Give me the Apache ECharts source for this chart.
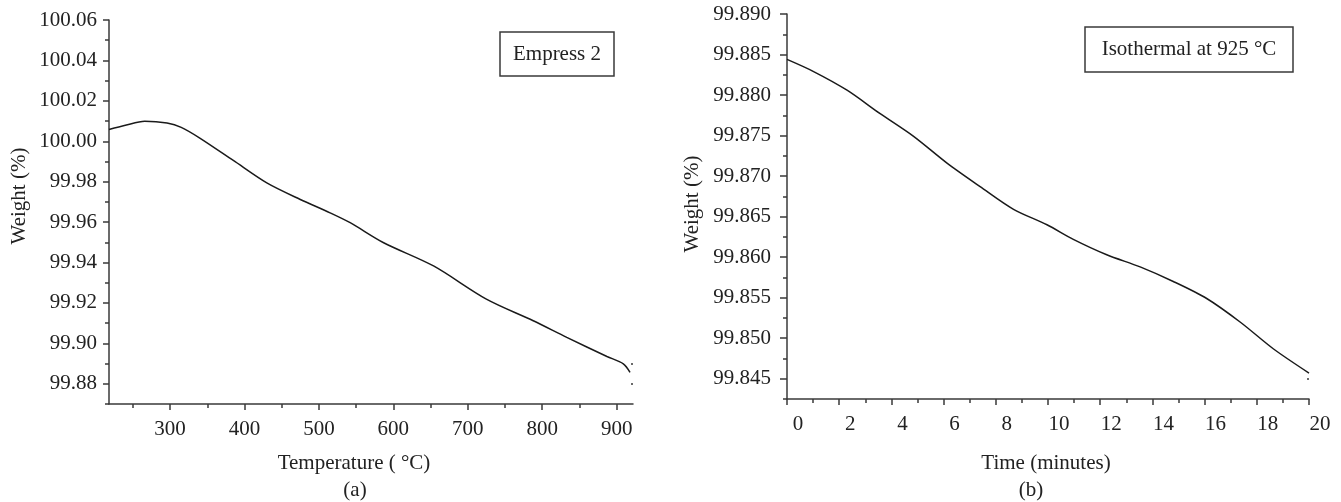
<!DOCTYPE html>
<html>
<head>
<meta charset="utf-8">
<script src="https://cdn.jsdelivr.net/npm/echarts@6/dist/echarts.min.js"></script>
<style>
  html, body { margin: 0; padding: 0; background: #fff; }
  #main { width: 1341px; height: 502px; }
</style>
</head>
<body>
<div id="main"></div>
<script>
// (a) heating run, Empress 2
const tempA = [218, 240, 266, 296, 315, 340, 385, 430, 475, 515, 542, 587, 654, 725, 788, 833, 887, 909, 918];
const weightA = [100.0058, 100.0079, 100.0099, 100.0090, 100.0069, 100.0016, 99.9905, 99.9794, 99.9712, 99.9646,
    99.9597, 99.9498, 99.9383, 99.9219, 99.9112, 99.9030, 99.8935, 99.8899, 99.8857];

// (b) isothermal at 925 °C
const timeB = [0, 1.02, 2.3, 3.57, 4.85, 6.13, 7.4, 8.68, 9.96, 10.97, 12.25, 13.53, 14.8, 16.08, 17.36, 18.63, 20];
const weightB = [99.8844, 99.8829, 99.8806, 99.8777, 99.8749, 99.8716, 99.8687, 99.8659, 99.864, 99.8622,
    99.8603, 99.8588, 99.857, 99.8549, 99.852, 99.8487, 99.8457];

// tick positions
const tempTicks = [300, 400, 500, 600, 700, 800, 900];
const tempMinor = [250, 350, 450, 550, 650, 750, 850];
const weightTicksA = [99.88, 99.90, 99.92, 99.94, 99.96, 99.98, 100.00, 100.02, 100.04, 100.06];
const weightMinorA = [99.87, 99.89, 99.91, 99.93, 99.95, 99.97, 99.99, 100.01, 100.03, 100.05];
const weightTicksB = [99.845, 99.850, 99.855, 99.860, 99.865, 99.870, 99.875, 99.880, 99.885, 99.890];
const weightMinorB = [99.8425, 99.8475, 99.8525, 99.8575, 99.8625, 99.8675, 99.8725, 99.8775, 99.8825, 99.8875];

const FONT = 'Liberation Serif';
const INK = '#222';
const AXIS = '#3a3a3a';

const chart = echarts.init(document.getElementById('main'));

const pairs = (xs, ys) => xs.map((x, i) => [x, ys[i]]);

const lineAxis = { lineStyle: { color: AXIS, width: 1.5 } };
const tickLine = { color: AXIS, width: 1.5 };
const labelStyle = { color: INK, fontFamily: FONT, fontSize: 21 };

const text = (x, y, str, rot) => ({
    type: 'text',
    x: x, y: y,
    rotation: rot || 0,
    style: {
        text: str, fill: INK, font: '21px "Liberation Serif"',
        align: 'center', verticalAlign: 'middle'
    }
});

chart.setOption({
    animation: false,
    backgroundColor: '#fff',
    grid: [
        { left: 109, top: 20, width: 524, height: 384 },
        { left: 787, top: 14, width: 522, height: 385 }
    ],
    xAxis: [
        {
            gridIndex: 0, type: 'value', min: 218, max: 922, position: 'bottom',
            axisLine: lineAxis,
            axisTick: { customValues: tempTicks, length: 6, lineStyle: tickLine },
            axisLabel: Object.assign({ customValues: tempTicks, margin: 15 }, labelStyle),
            splitLine: { show: false }
        },
        {
            // minor ticks for (a)
            gridIndex: 0, type: 'value', min: 218, max: 922, position: 'bottom',
            axisLine: { show: false },
            axisTick: { customValues: tempMinor, length: 4, lineStyle: tickLine },
            axisLabel: { show: false },
            splitLine: { show: false }
        },
        {
            gridIndex: 1, type: 'value', min: 0, max: 20, interval: 2, position: 'bottom',
            axisLine: lineAxis,
            axisTick: { length: 6, lineStyle: tickLine },
            minorTick: { show: true, splitNumber: 2, length: 4, lineStyle: tickLine },
            axisLabel: Object.assign({ margin: 15, padding: [0, 0, 0, 22] }, labelStyle),
            splitLine: { show: false }
        }
    ],
    yAxis: [
        {
            gridIndex: 0, type: 'value', min: 99.87, max: 100.06, position: 'left',
            axisLine: lineAxis,
            axisTick: { customValues: weightTicksA, length: 6, lineStyle: tickLine },
            axisLabel: Object.assign({
                customValues: weightTicksA, margin: 12,
                formatter: v => v.toFixed(2)
            }, labelStyle),
            splitLine: { show: false }
        },
        {
            // minor ticks for (a)
            gridIndex: 0, type: 'value', min: 99.87, max: 100.06, position: 'left',
            axisLine: { show: false },
            axisTick: { customValues: weightMinorA, length: 4, lineStyle: tickLine },
            axisLabel: { show: false },
            splitLine: { show: false }
        },
        {
            gridIndex: 0, type: 'value', min: 99.87, max: 100.06, position: 'right',
            axisLine: { show: false },
            axisTick: { customValues: [99.88, 99.89], inside: true, length: 2, lineStyle: tickLine },
            axisLabel: { show: false },
            splitLine: { show: false }
        },
        {
            gridIndex: 1, type: 'value', min: 99.8425, max: 99.89, position: 'left',
            axisLine: lineAxis,
            axisTick: { customValues: weightTicksB, length: 7, lineStyle: tickLine },
            axisLabel: Object.assign({
                customValues: weightTicksB, margin: 16,
                formatter: v => v.toFixed(3)
            }, labelStyle),
            splitLine: { show: false }
        },
        {
            // minor ticks for (b)
            gridIndex: 1, type: 'value', min: 99.8425, max: 99.89, position: 'left',
            axisLine: { show: false },
            axisTick: { customValues: weightMinorB, length: 4, lineStyle: tickLine },
            axisLabel: { show: false },
            splitLine: { show: false }
        },
        {
            gridIndex: 1, type: 'value', min: 99.8425, max: 99.89, position: 'right',
            axisLine: { show: false },
            axisTick: { customValues: [99.845], inside: true, length: 2, lineStyle: tickLine },
            axisLabel: { show: false },
            splitLine: { show: false }
        }
    ],
    series: [
        {
            name: 'Empress 2',
            type: 'line',
            xAxisIndex: 0, yAxisIndex: 0,
            data: pairs(tempA, weightA),
            smooth: 0.3,
            showSymbol: false,
            lineStyle: { color: '#1a1a1a', width: 1.5 }
        },
        {
            name: 'Isothermal at 925 °C',
            type: 'line',
            xAxisIndex: 2, yAxisIndex: 3,
            data: pairs(timeB, weightB),
            smooth: 0.3,
            showSymbol: false,
            lineStyle: { color: '#1a1a1a', width: 1.5 }
        }
    ],
    graphic: [
        text(19, 196, 'Weight (%)', Math.PI / 2),
        text(692, 204, 'Weight (%)', Math.PI / 2),
        text(354, 463, 'Temperature ( °C)'),
        text(355, 490, '(a)'),
        text(1046, 463, 'Time (minutes)'),
        text(1031, 490, '(b)'),
        {
            type: 'rect',
            shape: { x: 500, y: 32, width: 114, height: 44 },
            style: { fill: '#fff', stroke: AXIS, lineWidth: 1.5 }
        },
        text(557, 54, 'Empress 2'),
        {
            type: 'rect',
            shape: { x: 1085, y: 27, width: 208, height: 45 },
            style: { fill: '#fff', stroke: AXIS, lineWidth: 1.5 }
        },
        text(1189, 49.5, 'Isothermal at 925 °C')
    ]
});
</script>
</body>
</html>
